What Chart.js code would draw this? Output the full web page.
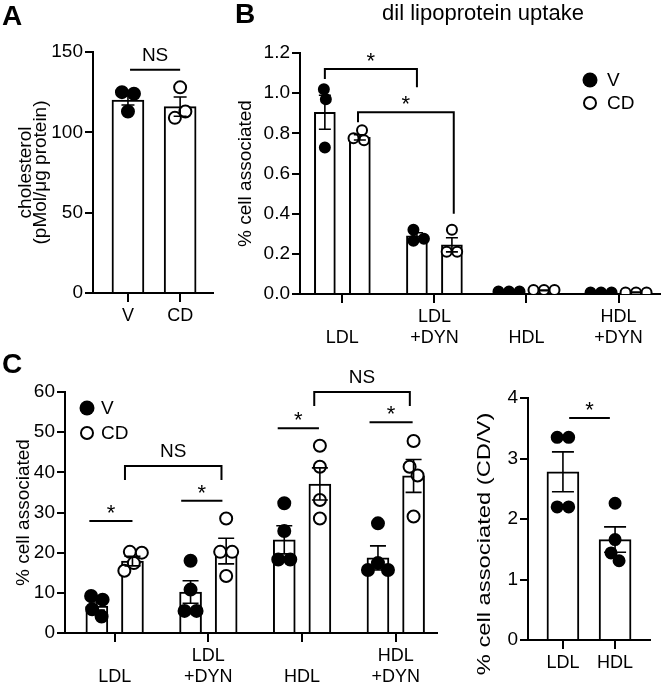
<!DOCTYPE html>
<html>
<head>
<meta charset="utf-8">
<script src="https://cdn.jsdelivr.net/npm/chart.js@4.4.1/dist/chart.umd.min.js"></script>
<style>
  html, body { margin: 0; padding: 0; background: #fff; }
  #wrap { position: relative; width: 667px; height: 685px; }
  #wrap canvas { position: absolute; left: 0; top: 0; }
</style>
</head>
<body>
<div id="wrap">
  <canvas id="chartA" width="667" height="685"></canvas>
  <canvas id="chartB" width="667" height="685"></canvas>
  <canvas id="chartC" width="667" height="685"></canvas>
  <canvas id="chartD" width="667" height="685"></canvas>
</div>
<script>
const FONT = '"Liberation Sans", Arial, Helvetica, sans-serif';

// A - cholesterol content
const A_GROUPS = ['V', 'CD'];
const A_MEAN = [120, 116];
const A_SEM = [3, 6];
const A_POINTS = [[125, 124, 113], [128, 109, 113]];
const A_TICKS = [0, 50, 100, 150];

// B - dil lipoprotein uptake
const B_GROUPS = [['', 'LDL'], ['LDL', '+DYN'], ['', 'HDL'], ['HDL', '+DYN']];
const B_V_MEAN = [0.905, 0.29, 0.012, 0.008];
const B_V_SEM = [0.085, 0.015, 0.001, 0.001];
const B_V_POINTS = [[1.02, 0.97, 0.73], [0.32, 0.265, 0.275], [0.012, 0.012, 0.012], [0.007, 0.007, 0.007]];
const B_CD_MEAN = [0.78, 0.245, 0.018, 0.008];
const B_CD_SEM = [0.013, 0.035, 0.002, 0.002];
const B_CD_POINTS = [[0.815, 0.765, 0.775], [0.32, 0.21, 0.21], [0.02, 0.02, 0.02], [0.007, 0.007, 0.007]];
const B_TICKS = [0, 0.2, 0.4, 0.6, 0.8, 1.0, 1.2];

// C - cell associated
const C_GROUPS = [['', 'LDL'], ['LDL', '+DYN'], ['', 'HDL'], ['HDL', '+DYN']];
const C_V_MEAN = [6.7, 10.2, 23.2, 18.7];
const C_V_SEM = [1.0, 2.8, 3.5, 3.0];
const C_V_POINTS = [[9.2, 8.3, 5.9, 4.1], [18, 10.8, 5.5, 5.5], [32.3, 25.4, 18.3, 18.3], [27.3, 17.4, 15.7, 15.7]];
const C_CD_MEAN = [17.9, 20.4, 37.1, 39.1];
const C_CD_SEM = [1.2, 3.2, 4.0, 4.1];
const C_CD_POINTS = [[20.2, 20.0, 17.4, 15.5], [28.5, 20.2, 20.2, 14.2], [46.6, 41.4, 33.1, 28.5], [47.8, 41.4, 39.2, 29.0]];
const C_TICKS = [0, 10, 20, 30, 40, 50, 60];

// C right - ratio CD/V
const D_GROUPS = ['LDL', 'HDL'];
const D_MEAN = [2.78, 1.66];
const D_SEM = [0.33, 0.21];
const D_POINTS = [[3.35, 3.35, 2.2, 2.2], [2.26, 1.66, 1.44, 1.31]];
const D_TICKS = [0, 1, 2, 3, 4];

// significance marks, in data units
const A_SIG = [{ x1: 0.04, x2: 1, y: 139, label: 'NS' }];
const B_SIG = [
  { x1: -0.19, x2: 0.81, y: 1.12, y1: 1.07, y2: 1.03, label: '*' },
  { x1: 0.17, x2: 1.21, y: 0.905, y1: 0.855, y2: 0.40, label: '*' }
];
const C_SIG = [
  { x1: -0.27, x2: 0.19, y: 27.9, label: '*' },
  { x1: 0.71, x2: 1.15, y: 32.9, label: '*' },
  { x1: 1.74, x2: 2.18, y: 51.0, label: '*' },
  { x1: 2.72, x2: 3.18, y: 52.5, label: '*' },
  { x1: 0.11, x2: 1.14, y: 41.6, y1: 38.1, y2: 38.1, label: 'NS' },
  { x1: 2.13, x2: 3.15, y: 60.0, y1: 56.5, y2: 56.5, label: 'NS' }
];
const D_SIG = [{ x1: 0.12, x2: 0.9, y: 3.67, label: '*' }];

function swarm(chart, r) {
  const xs = chart.scales.x, ys = chart.scales.y;
  const unit = xs.getPixelForValue(1) - xs.getPixelForValue(0);
  const minD = 2 * (r + 1) * 0.85;
  chart.data.datasets.forEach(ds => {
    if (!ds.swarm) return;
    const groups = {};
    ds.data.forEach(pt => { (groups[pt.base] = groups[pt.base] || []).push(pt); });
    Object.values(groups).forEach(pts => {
      const placed = [];
      pts.forEach(pt => {
        const py = ys.getPixelForValue(pt.y);
        let dx = 0;
        for (let k = 0; k < 200; k++) {
          const cand = (k % 2 ? 1 : -1) * Math.ceil(k / 2) * 0.5;
          if (placed.every(q => Math.hypot(q.dx - cand, q.py - py) >= minD)) { dx = cand; break; }
        }
        placed.push({ pt, py, dx });
      });
      // centre each cluster of touching points
      const seen = new Set();
      placed.forEach(q => {
        if (seen.has(q)) return;
        const comp = [q]; seen.add(q);
        for (let i = 0; i < comp.length; i++) {
          placed.forEach(o => {
            if (!seen.has(o) && Math.hypot(o.dx - comp[i].dx, o.py - comp[i].py) < minD + 1) { seen.add(o); comp.push(o); }
          });
        }
        const shift = comp.reduce((s, o) => s + o.dx, 0) / comp.length;
        comp.forEach(o => { o.dx -= shift; });
      });
      placed.forEach(q => { q.pt.x = q.pt.base + q.dx / unit; });
    });
  });
  chart.update('none');
}

function panel(id, p) {
  const datasets = [];
  p.series.forEach(s => {
    const pts = [];
    const fills = [];
    s.points.forEach((vals, i) => vals.forEach(v => {
      pts.push({ x: i + s.off, base: i + s.off, y: v });
      fills.push(Array.isArray(s.fill) ? s.fill[i] : s.fill);
    }));
    datasets.push({
      type: 'scatter', order: 1, swarm: true, data: pts,
      pointRadius: p.r, pointHoverRadius: p.r,
      pointBackgroundColor: fills, pointBorderColor: '#000', pointBorderWidth: 2
    });
    datasets.push({
      type: 'bar', order: 2, sem: s.sem,
      data: s.mean.map((m, i) => ({ x: i + s.off, y: m })),
      backgroundColor: '#fff', borderColor: '#000', borderWidth: 2,
      barThickness: p.barW, grouped: false
    });
  });

  const marks = {
    id: 'marks',
    afterDatasetsDraw(chart) {
      // error bars
      const c = chart.ctx, ys = chart.scales.y;
      c.save();
      c.strokeStyle = '#000';
      c.lineWidth = 1.6;
      chart.data.datasets.forEach((ds, di) => {
        if (ds.type !== 'bar') return;
        chart.getDatasetMeta(di).data.forEach((el, i) => {
          const m = ds.data[i].y, e = ds.sem[i];
          const yt = ys.getPixelForValue(m + e), yb = ys.getPixelForValue(m - e);
          c.beginPath();
          c.moveTo(el.x, yt); c.lineTo(el.x, yb);
          c.moveTo(el.x - p.cap / 2, yt); c.lineTo(el.x + p.cap / 2, yt);
          c.moveTo(el.x - p.cap / 2, yb); c.lineTo(el.x + p.cap / 2, yb);
          c.stroke();
        });
      });
      c.restore();
    },
    afterDraw(chart) {
      const c = chart.ctx, xs = chart.scales.x, ys = chart.scales.y;
      const a = chart.chartArea;
      c.save();
      c.strokeStyle = '#000';
      c.fillStyle = '#000';
      c.lineWidth = 2;
      c.textAlign = 'center';
      c.textBaseline = 'alphabetic';
      p.sig.forEach(m => {
        const x1 = xs.getPixelForValue(m.x1), x2 = xs.getPixelForValue(m.x2), y = ys.getPixelForValue(m.y);
        c.beginPath();
        if (m.y1 !== undefined) {
          c.moveTo(x1, ys.getPixelForValue(m.y1));
          c.lineTo(x1, y); c.lineTo(x2, y);
          c.lineTo(x2, ys.getPixelForValue(m.y2));
        } else {
          c.moveTo(x1, y); c.lineTo(x2, y);
        }
        c.stroke();
        if (m.label === '*') {
          c.font = '22px ' + FONT;
          c.fillText('*', (x1 + x2) / 2, y - 1);
        } else {
          c.font = '19px ' + FONT;
          c.fillText(m.label, (x1 + x2) / 2, y - 9);
        }
      });
      if (p.legend) {
        const lx = a.left + p.legend.x, ly = a.top + p.legend.y;
        c.textAlign = 'left';
        c.textBaseline = 'middle';
        c.font = '19px ' + FONT;
        c.beginPath(); c.arc(lx, ly, 7.5, 0, Math.PI * 2); c.fill();
        c.fillText('V', lx + p.legend.tx, ly + 1);
        c.beginPath(); c.arc(lx, ly + p.legend.dy, 6, 0, Math.PI * 2); c.stroke();
        c.fillText('CD', lx + p.legend.tx, ly + p.legend.dy + 1);
      }
      if (p.stretchTitle) {
        // axis title of the stretched right-hand panel
        const t = p.stretchTitle;
        c.save();
        c.translate(a.left + t.dx, a.bottom + t.dy);
        c.rotate(-Math.PI / 2);
        c.scale(t.sx, 1);
        c.textAlign = 'center';
        c.textBaseline = 'middle';
        c.font = '19px ' + FONT;
        c.fillText(t.text, 0, 0);
        c.restore();
      }
      if (p.letter) {
        c.textAlign = 'left';
        c.textBaseline = 'alphabetic';
        c.font = 'bold 28px ' + FONT;
        c.fillText(p.letter.text, p.letter.x, p.letter.y);
      }
      if (p.title) {
        c.textAlign = 'center';
        c.textBaseline = 'alphabetic';
        c.font = '22px ' + FONT;
        c.fillText(p.title.text, p.title.x, p.title.y);
      }
      c.restore();
    }
  };

  const chart = new Chart(document.getElementById(id), {
    type: 'bar',
    data: { datasets },
    options: {
      responsive: false,
      animation: false,
      devicePixelRatio: 1,
      layout: { padding: p.pad },
      plugins: { legend: { display: false }, tooltip: { enabled: false } },
      scales: {
        x: {
          type: 'linear', min: p.xMin, max: p.xMax, offset: false,
          afterBuildTicks: axis => { axis.ticks = p.cats.map((c, i) => ({ value: i })); },
          afterFit: scale => { scale.height = p.xH; },
          grid: { offset: false, drawOnChartArea: false, drawTicks: true, tickLength: 9, color: '#000', lineWidth: 2 },
          border: { display: true, color: '#000', width: 2 },
          ticks: {
            color: '#000', padding: 3, maxRotation: 0, autoSkip: false,
            font: { family: FONT, size: 18 },
            callback: v => p.cats[v]
          }
        },
        y: {
          type: 'linear', min: p.yTicks[0], max: p.yTicks[p.yTicks.length - 1],
          afterBuildTicks: axis => { axis.ticks = p.yTicks.map(v => ({ value: v })); },
          afterFit: scale => { scale.width = p.yW; },
          grid: { drawOnChartArea: false, drawTicks: true, tickLength: 8, color: '#000', lineWidth: 2 },
          border: { display: true, color: '#000', width: 2 },
          ticks: {
            color: '#000', padding: 2,
            font: { family: FONT, size: 19 },
            callback: p.yFmt
          },
          title: {
            display: !!p.yTitle, text: p.yTitle || '', color: '#000', padding: 0,
            font: { family: FONT, size: 19, lineHeight: p.titleLH || 1.2 }
          }
        }
      }
    },
    plugins: [marks]
  });
  swarm(chart, p.r);
  return chart;
}

panel('chartA', {
  pad: { left: 19, top: 52, right: 454, bottom: 347 }, yW: 74, xH: 45,
  xMin: -0.67, xMax: 1.63, cats: A_GROUPS, yTicks: A_TICKS, yFmt: v => String(v),
  yTitle: ['cholesterol', '(pMol/\u03bcg protein)'], titleLH: 0.75,
  barW: 32, cap: 13, r: 6,
  series: [{ off: 0, fill: ['#000', '#fff'], mean: A_MEAN, sem: A_SEM, points: A_POINTS }],
  sig: A_SIG,
  letter: { text: 'A', x: 2, y: 25 }
});

panel('chartB', {
  pad: { left: 234, top: 53, right: 2, bottom: 341 }, yW: 66, xH: 50,
  xMin: -0.46, xMax: 3.45, cats: B_GROUPS, yTicks: B_TICKS, yFmt: v => v.toFixed(1),
  yTitle: '% cell associated',
  barW: 21, cap: 12, r: 5,
  series: [
    { off: -0.19, fill: '#000', mean: B_V_MEAN, sem: B_V_SEM, points: B_V_POINTS },
    { off: 0.19, fill: '#fff', mean: B_CD_MEAN, sem: B_CD_SEM, points: B_CD_POINTS }
  ],
  sig: B_SIG,
  legend: { x: 290, y: 27, dy: 23, tx: 17 },
  letter: { text: 'B', x: 235, y: 23 },
  title: { text: 'dil lipoprotein uptake', x: 483, y: 20 }
});

panel('chartC', {
  pad: { left: 12, top: 392, right: 230, bottom: 2 }, yW: 53, xH: 50,
  xMin: -0.53, xMax: 3.44, cats: C_GROUPS, yTicks: C_TICKS, yFmt: v => String(v),
  yTitle: '% cell associated',
  barW: 22, cap: 16, r: 6,
  series: [
    { off: -0.19, fill: '#000', mean: C_V_MEAN, sem: C_V_SEM, points: C_V_POINTS },
    { off: 0.19, fill: '#fff', mean: C_CD_MEAN, sem: C_CD_SEM, points: C_CD_POINTS }
  ],
  sig: C_SIG,
  legend: { x: 22, y: 16, dy: 25, tx: 14 },
  letter: { text: 'C', x: 2, y: 373 }
});

panel('chartD', {
  pad: { left: 474, top: 398, right: 17, bottom: 5 }, yW: 54, xH: 40,
  xMin: -0.67, xMax: 1.67, cats: D_GROUPS, yTicks: D_TICKS, yFmt: v => String(v),
  stretchTitle: { text: '% cell associated (CD/V)', dx: -43, dy: -96, sx: 1.25 },
  barW: 32, cap: 22, r: 5.5,
  series: [{ off: 0, fill: '#000', mean: D_MEAN, sem: D_SEM, points: D_POINTS }],
  sig: D_SIG
});
</script>
</body>
</html>
